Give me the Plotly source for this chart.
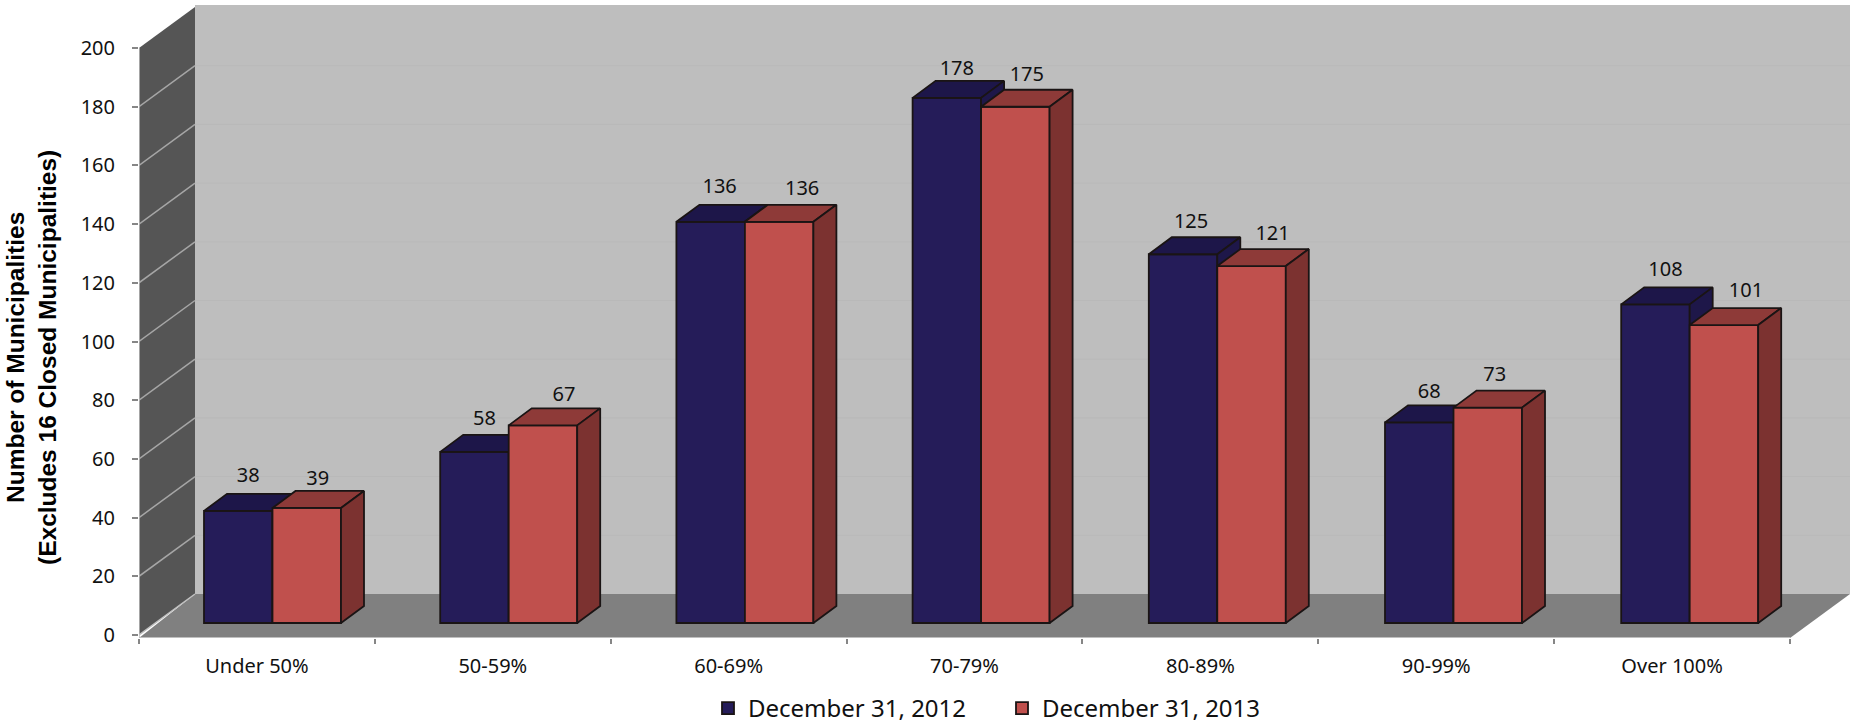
import plotly.graph_objects as go

categories = ["Under 50%", "50-59%", "60-69%", "70-79%", "80-89%", "90-99%", "Over 100%"]
values_2012 = [38, 58, 136, 178, 125, 68, 108]
values_2013 = [39, 67, 136, 175, 121, 73, 101]
y_ticks = [0, 20, 40, 60, 80, 100, 120, 140, 160, 180, 200]
name_2012 = "December 31, 2012"
name_2013 = "December 31, 2013"
# label placement relative to each bar, px
lift_2012 = [34, 31.5, 33.5, 28, 31, 29, 33]
lift_2013 = [28, 29, 31.5, 31, 31, 31.5, 33.5]
shift_2012 = [10, 10, 9, 10, 8, 10, 10]
shift_2013 = [11, 21, 23, 11.5, 21, 7, 22]

W, H = 1850, 740  # the window shows the top 722 px; the extra room holds the legend's padding
L, R, T = 139, 0, 3
PX_BOTTOM = 638
# wall / axis plane scale
AX_X = 235.86
AX_Y = 2.935
AX_Y0 = 635
# bar plane scale
BAR_X = 236.2
BAR_X0 = 272.5
BAR_Y = 2.95
BAR_Y0 = 623
BAR_W = 68.5 / BAR_X
SIDE_DX = 23 / BAR_X
SIDE_DY = 17 / BAR_Y
WALL_DX = 56 / AX_X
WALL_DY = 41 / AX_Y
N = len(categories)
EDGE = dict(color="#1a1414", width=1.8)

x_range = [0, (W - L) / AX_X]
y_range = [(AX_Y0 - PX_BOTTOM) / AX_Y, (AX_Y0 - T) / AX_Y]
bx_range = [(L - BAR_X0) / BAR_X, (W - BAR_X0) / BAR_X]
by_range = [(BAR_Y0 - PX_BOTTOM) / BAR_Y, (BAR_Y0 - T) / BAR_Y]
domain = [(H - PX_BOTTOM) / (H - T), 1]

fig = go.Figure()


def faces(values, left, top_color, side_color, xa, ya):
    tx, ty, sx, sy = [], [], [], []
    for i, v in enumerate(values):
        x0, x1 = i + left, i + left + BAR_W
        tx += [x0, x1, x1 + SIDE_DX, x0 + SIDE_DX, x0, None]
        ty += [v, v, v + SIDE_DY, v + SIDE_DY, v, None]
        sx += [x1, x1 + SIDE_DX, x1 + SIDE_DX, x1, x1, None]
        sy += [v, v + SIDE_DY, SIDE_DY, 0, v, None]
    for px, py, color in ((tx, ty, top_color), (sx, sy, side_color)):
        fig.add_trace(go.Scatter(x=px, y=py, mode="lines", fill="toself", fillcolor=color,
                                 line=EDGE, showlegend=False,
                                 hoverinfo="skip", xaxis=xa, yaxis=ya))


def front(values, name, left, color, xa, ya):
    fig.add_trace(go.Bar(x=list(range(N)), y=values, name=name, width=BAR_W, offset=left,
                         marker=dict(color=color, line=EDGE),
                         xaxis=xa, yaxis=ya))


front(values_2012, name_2012, -BAR_W, "#251C59", "x2", "y2")
faces(values_2012, -BAR_W, "#1D1649", "#1E1749", "x2", "y2")
front(values_2013, name_2013, 0, "#C0504D", "x3", "y3")
faces(values_2013, 0, "#8E3A38", "#7C3230", "x3", "y3")

for values, lifts, left, shifts in ((values_2012, lift_2012, -BAR_W, shift_2012),
                                    (values_2013, lift_2013, 0, shift_2013)):
    fig.add_trace(go.Scatter(
        x=[i + left + BAR_W / 2 + s / BAR_X for i, s in enumerate(shifts)],
        y=[v + h / BAR_Y for v, h in zip(values, lifts)],
        mode="text", text=[str(v) for v in values], textposition="middle center",
        textfont=dict(family="Noto Sans", size=20, color="#111111"),
        showlegend=False, hoverinfo="skip", xaxis="x3", yaxis="y3"))

shapes = []
wall_right = x_range[1]
floor_back = WALL_DY
# back wall
shapes.append(dict(type="rect", xref="x", yref="y", x0=WALL_DX, x1=wall_right, y0=floor_back,
                   y1=y_ticks[-1] + WALL_DY + 0.7, fillcolor="#BEBEBE", line=dict(width=0), layer="below"))
# side wall
shapes.append(dict(type="path", xref="x", yref="y",
                   path=f"M0,0 L0,{y_ticks[-1]} L{WALL_DX},{y_ticks[-1] + WALL_DY} L{WALL_DX},{floor_back} Z",
                   fillcolor="#555555", line=dict(width=0), layer="below"))
# floor
shapes.append(dict(type="path", xref="x", yref="y",
                   path=f"M0,{y_range[0]} L{WALL_DX},{floor_back} L{wall_right},{floor_back} L{N},{y_range[0]} Z",
                   fillcolor="#808080", line=dict(width=0), layer="below"))
# gridlines
for v in y_ticks:
    if 0 < v < y_ticks[-1]:
        shapes.append(dict(type="line", xref="x", yref="y", x0=0, x1=WALL_DX, y0=v, y1=v + WALL_DY,
                           line=dict(color="#A6A6A6", width=1.5), layer="below"))
        shapes.append(dict(type="line", xref="x", yref="y", x0=WALL_DX, x1=wall_right, y0=v + WALL_DY,
                           y1=v + WALL_DY, line=dict(color="#B9B9B9", width=1), layer="below"))
# edges
shapes.append(dict(type="line", xref="x", yref="y", x0=0, x1=0, y0=y_range[0], y1=y_ticks[-1],
                   line=dict(color="#BFBFBF", width=1.5), layer="below"))
shapes.append(dict(type="line", xref="x", yref="y", x0=0, x1=WALL_DX, y0=0, y1=WALL_DY,
                   line=dict(color="#BFBFBF", width=1.5), layer="below"))
shapes.append(dict(type="line", xref="x", yref="y", x0=0, x1=N, y0=y_range[0], y1=y_range[0],
                   line=dict(color="#BFBFBF", width=2), layer="below"))

tick_font = dict(family="Noto Sans", size=20, color="#111111")
fig.update_layout(
    width=W, height=H, autosize=False,
    margin=dict(l=L, r=R, t=T, b=0, autoexpand=False),
    paper_bgcolor="white", plot_bgcolor="white",
    barmode="overlay", showlegend=True, shapes=shapes,
    xaxis=dict(automargin=False, range=x_range, tickmode="array", tickvals=[i + 0.5 for i in range(N)], ticktext=categories,
               ticks="", showgrid=False, zeroline=False, showline=False, tickfont=tick_font,
               ticklabelstandoff=14, tickangle=0,
               minor=dict(tickmode="array", tickvals=list(range(N + 1)), ticks="outside", ticklen=5,
                          tickcolor="#868686", tickwidth=1.5, showgrid=False)),
    yaxis=dict(automargin=False, domain=domain, range=y_range, tickmode="array", tickvals=y_ticks, ticks="outside", ticklen=6,
               tickcolor="#868686", tickwidth=1.5, showgrid=False, zeroline=False, showline=False,
               tickfont=tick_font, ticklabelstandoff=13),
    xaxis2=dict(automargin=False, range=bx_range, overlaying="x", anchor="y2", visible=False),
    yaxis2=dict(automargin=False, domain=domain, range=by_range, overlaying="y", anchor="x2", visible=False),
    xaxis3=dict(automargin=False, range=bx_range, overlaying="x", anchor="y3", visible=False),
    yaxis3=dict(automargin=False, domain=domain, range=by_range, overlaying="y", anchor="x3", visible=False),
    legend=dict(orientation="h", xref="paper", yref="paper", x=(708 - L) / (W - L), xanchor="left",
                y=(H - 686) / (H - T), yanchor="top",
                font=dict(family="Noto Sans", size=24, color="#111111"),
                entrywidth=249, entrywidthmode="pixels", itemclick=False, itemdoubleclick=False,
                traceorder="normal", bgcolor="rgba(0,0,0,0)"),
    annotations=[dict(text="<b>Number of Municipalities</b><br><b>(Excludes 16 Closed Municipalities)</b>",
                      xref="paper", yref="paper",
                      x=(31 - L) / (W - L), y=(H - 358) / (H - T),
                      xanchor="center", yanchor="middle", textangle=-90, showarrow=False,
                      font=dict(family="Liberation Sans", size=24.5, color="#000000"),
                      align="center")],
)

fig.write_html("out.html",
               post_script="document.body.style.margin='0';document.documentElement.style.overflow='hidden';",
               config={"displayModeBar": False})
